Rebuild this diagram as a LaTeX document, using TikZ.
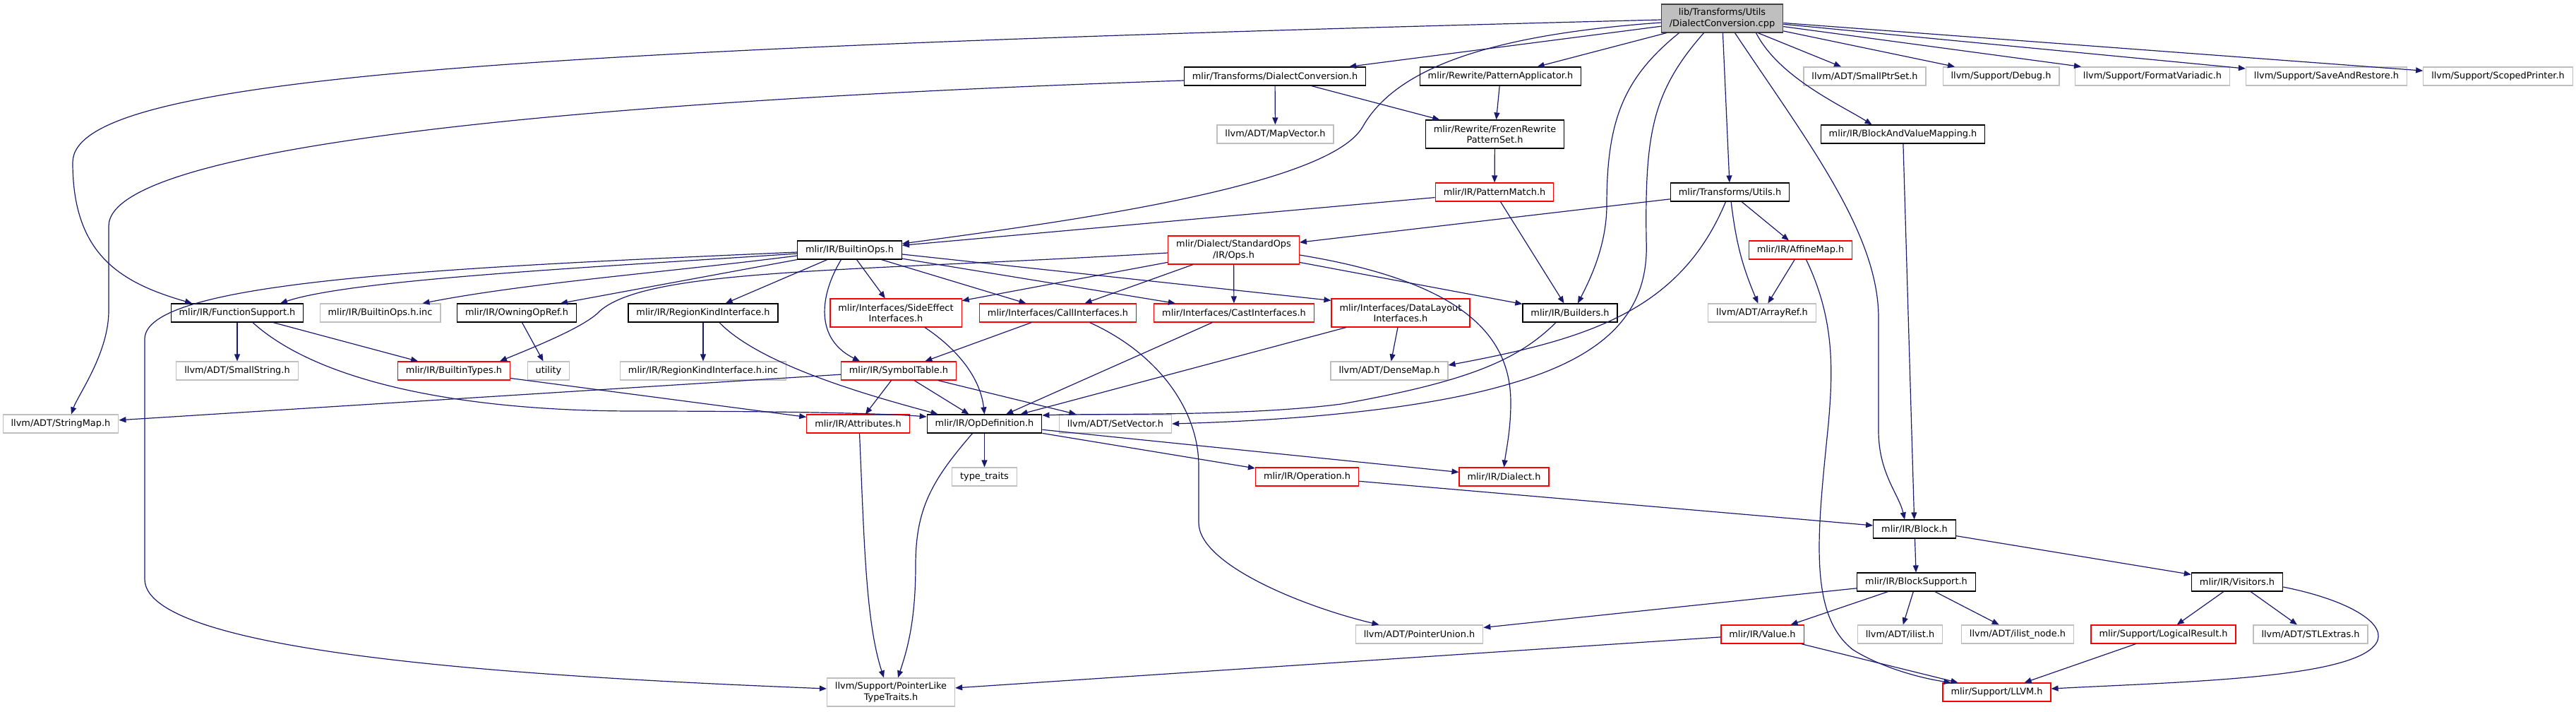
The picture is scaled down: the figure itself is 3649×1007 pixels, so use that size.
\documentclass[tikz,border=0pt]{standalone}
\usepackage{fontspec}
\setmainfont{DejaVu Sans}
\usepackage{tikz}
\usepackage{xcolor}
\usetikzlibrary{arrows.meta, calc}
\definecolor{cEdge}{HTML}{191970}
\definecolor{cRed}{HTML}{FF0000}
\definecolor{cGray}{HTML}{BFBFBF}
\definecolor{cRootLine}{HTML}{404040}
\tikzset{
	hdr/.style     ={rectangle, font=\fontsize{12.9pt}{15.4pt}\selectfont, inner xsep=11.5pt, inner ysep=4pt, minimum height=26pt, align=center, fill=white, line width=1.2pt},
	docbox/.style  ={hdr, draw=black},
	redbox/.style  ={hdr, draw=cRed},
	extbox/.style  ={hdr, draw=cGray},
	rootbox/.style ={hdr, draw=cRootLine, fill=cGray},
	twoline/.style ={minimum height=40pt},
	dep/.style     ={-{Triangle[length=10pt, width=8pt]}, draw=cEdge, line width=1.2pt},
}
\begin{document}
\begin{tikzpicture}[x=1pt, y=-1pt]
	\useasboundingbox (0,0) rectangle (3649,1007);
	% include graph nodes
	\node[rootbox, twoline] (root) at (2439.5,26) {lib/Transforms/Utils\\/DialectConversion.cpp};
	\node[docbox] (dconvh) at (1806,108) {mlir/Transforms/DialectConversion.h};
	\node[docbox] (patapp) at (2125.5,108) {mlir/Rewrite/PatternApplicator.h};
	\node[extbox] (smallptrset) at (2641.5,108) {llvm/ADT/SmallPtrSet.h};
	\node[extbox] (debug) at (2834.5,108) {llvm/Support/Debug.h};
	\node[extbox] (formatv) at (3049,108) {llvm/Support/FormatVariadic.h};
	\node[extbox] (saverestore) at (3295.5,108) {llvm/Support/SaveAndRestore.h};
	\node[extbox] (scopedprinter) at (3538.5,108) {llvm/Support/ScopedPrinter.h};
	\node[extbox] (mapvector) at (1806.5,190) {llvm/ADT/MapVector.h};
	\node[docbox, twoline] (frozen) at (2117.5,190) {mlir/Rewrite/FrozenRewrite\\PatternSet.h};
	\node[docbox] (bvmapping) at (2695.5,190) {mlir/IR/BlockAndValueMapping.h};
	\node[redbox] (patmatch) at (2117,272) {mlir/IR/PatternMatch.h};
	\node[docbox] (tutils) at (2450.5,272) {mlir/Transforms/Utils.h};
	\node[docbox] (builtinops) at (1203.5,354) {mlir/IR/BuiltinOps.h};
	\node[redbox, twoline] (stdops) at (1747.5,354) {mlir/Dialect/StandardOps\\/IR/Ops.h};
	\node[redbox] (affinemap) at (2550.5,354) {mlir/IR/AffineMap.h};
	\node[docbox] (funcsupport) at (336,443) {mlir/IR/FunctionSupport.h};
	\node[extbox] (builtinopsinc) at (538.5,443) {mlir/IR/BuiltinOps.h.inc};
	\node[docbox] (owningopref) at (732,443) {mlir/IR/OwningOpRef.h};
	\node[docbox] (regionkind) at (996,443) {mlir/IR/RegionKindInterface.h};
	\node[redbox, twoline] (sideeffect) at (1269,443) {mlir/Interfaces/SideEffect\\Interfaces.h};
	\node[redbox] (callif) at (1498.5,443) {mlir/Interfaces/CallInterfaces.h};
	\node[redbox] (castif) at (1748,443) {mlir/Interfaces/CastInterfaces.h};
	\node[redbox, twoline] (datalayout) at (1984,443) {mlir/Interfaces/DataLayout\\Interfaces.h};
	\node[docbox] (builders) at (2224,443) {mlir/IR/Builders.h};
	\node[extbox] (arrayref) at (2496,443) {llvm/ADT/ArrayRef.h};
	\node[extbox] (smallstring) at (336,525) {llvm/ADT/SmallString.h};
	\node[redbox] (builtintypes) at (643,525) {mlir/IR/BuiltinTypes.h};
	\node[extbox] (utility) at (777,525) {utility};
	\node[extbox] (regionkindinc) at (996,525) {mlir/IR/RegionKindInterface.h.inc};
	\node[redbox] (symboltable) at (1273,525) {mlir/IR/SymbolTable.h};
	\node[extbox] (densemap) at (1968,525) {llvm/ADT/DenseMap.h};
	\node[extbox] (stringmap) at (86,600) {llvm/ADT/StringMap.h};
	\node[redbox] (attributes) at (1215.5,600) {mlir/IR/Attributes.h};
	\node[docbox] (opdef) at (1394.5,600) {mlir/IR/OpDefinition.h};
	\node[extbox] (setvector) at (1580,600) {llvm/ADT/SetVector.h};
	\node[extbox] (typetraits) at (1394.5,675) {type\_traits};
	\node[redbox] (operation) at (1851.5,675) {mlir/IR/Operation.h};
	\node[redbox] (dialect) at (2130.5,675) {mlir/IR/Dialect.h};
	\node[docbox] (block) at (2712,749) {mlir/IR/Block.h};
	\node[docbox] (blocksupport) at (2714.5,824) {mlir/IR/BlockSupport.h};
	\node[docbox] (visitors) at (3169,824) {mlir/IR/Visitors.h};
	\node[extbox] (pointerunion) at (2010.5,898) {llvm/ADT/PointerUnion.h};
	\node[redbox] (value) at (2496.5,898) {mlir/IR/Value.h};
	\node[extbox] (ilist) at (2691.5,898) {llvm/ADT/ilist.h};
	\node[extbox] (ilistnode) at (2858,898) {llvm/ADT/ilist\_node.h};
	\node[redbox] (logicalresult) at (3064.5,898) {mlir/Support/LogicalResult.h};
	\node[extbox] (stlextras) at (3273,898) {llvm/ADT/STLExtras.h};
	\node[extbox, twoline] (ptrlike) at (1262,980) {llvm/Support/PointerLike\\TypeTraits.h};
	\node[redbox] (llvmh) at (2828.5,980) {mlir/Support/LLVM.h};
	% includes of the source file
	\draw[dep] (root) -- (dconvh);
	\draw[dep] (root) -- (patapp);
	\draw[dep] (root) -- (smallptrset);
	\draw[dep] (root) -- (debug);
	\draw[dep] (root) -- (formatv);
	\draw[dep] (root) -- (saverestore);
	\draw[dep] (root) -- (scopedprinter);
	\draw[dep] (root) -- (tutils);
	\draw[dep] ([xshift=48]root.south) .. controls (2520,110) and (2610,150) .. ([xshift=-44]bvmapping.north);
	\draw[dep] ([yshift=-2]root.west) .. controls (700,70) and (103,110) .. (103,230) .. controls (103,360) and (170,400) .. ([xshift=-64]funcsupport.north);
	\draw[dep] ([yshift=-6]root.west) .. controls (2100,50) and (1975,100) .. (1930,180) .. controls (1880,265) and (1500,315) .. ([yshift=9]builtinops.east);
	\draw[dep] ([xshift=-61]root.south) .. controls (2300,110) and (2276,170) .. (2276,290) .. controls (2276,350) and (2250,400) .. ([xshift=11]builders.north);
	\draw[dep] ([xshift=-26]root.south) .. controls (2340,130) and (2330,190) .. (2332,340) .. controls (2336,430) and (2290,500) .. (2140,543) .. controls (1990,588) and (1760,597) .. (setvector.east);
	\draw[dep] ([xshift=18]root.south) .. controls (2560,200) and (2661,330) .. (2661,450) -- (2661,610) .. controls (2661,670) and (2690,700) .. ([xshift=-14]block.north);
	% second level
	\draw[dep] (dconvh) -- (mapvector);
	\draw[dep] (dconvh) -- (frozen);
	\draw[dep] ([yshift=-6]dconvh.west) .. controls (900,140) and (154,200) .. (154,320) -- (154,440) .. controls (154,500) and (110,560) .. ([xshift=15]stringmap.north);
	\draw[dep] (patapp) -- (frozen);
	\draw[dep] (frozen) -- (patmatch);
	\draw[dep] (patmatch) -- (builtinops);
	\draw[dep] (patmatch) -- (builders);
	\draw[dep] (bvmapping) -- (block);
	\draw[dep] (tutils) -- (stdops);
	\draw[dep] (tutils) -- (affinemap);
	\draw[dep] (tutils) to[bend right=8] (arrayref);
	\draw[dep] ([xshift=-6]tutils.south) .. controls (2380,440) and (2250,480) .. ([yshift=8]densemap.east);
	\draw[dep] (affinemap) -- (arrayref);
	\draw[dep] ([xshift=8]affinemap.south) .. controls (2598,450) and (2597,520) .. (2590,600) .. controls (2575,750) and (2560,870) .. (2625,920) .. controls (2665,945) and (2720,960) .. ([xshift=-65]llvmh.north);
	% BuiltinOps.h and Ops.h
	\draw[dep] ([yshift=-3]builtinops.west) .. controls (600,380) and (205,400) .. (205,480) -- (205,820) .. controls (205,930) and (800,960) .. ([yshift=5]ptrlike.west);
	\draw[dep] ([yshift=-5]builtinops.west) .. controls (850,378) and (500,395) .. ([xshift=61]funcsupport.north);
	\draw[dep] ([yshift=-8]builtinops.west) .. controls (950,385) and (750,400) .. ([xshift=60]builtinopsinc.north);
	\draw[dep] (builtinops.south west) -- ([xshift=62]owningopref.north);
	\draw[dep] (builtinops) -- (regionkind);
	\draw[dep] ([xshift=-12]builtinops.south) .. controls (1160,420) and (1155,480) .. ([xshift=-55]symboltable.north);
	\draw[dep] (builtinops) -- (sideeffect);
	\draw[dep] (builtinops) -- (callif);
	\draw[dep] (builtinops) -- (castif);
	\draw[dep] ([yshift=-6]builtinops.east) -- ([yshift=-3]datalayout.north west);
	\draw[dep] ([yshift=-4]stdops.west) .. controls (1200,385) and (920,380) .. (850,440) .. controls (830,462) and (760,490) .. ([xshift=65]builtintypes.north);
	\draw[dep] (stdops) -- (sideeffect);
	\draw[dep] (stdops) -- (callif);
	\draw[dep] (stdops) -- (castif);
	\draw[dep] (stdops) -- (builders);
	\draw[dep] ([yshift=-7]stdops.east) .. controls (2080,400) and (2140,480) .. (2140,570) .. controls (2140,610) and (2133,640) .. (dialect.north);
	% interfaces and friends
	\draw[dep] (funcsupport) -- (smallstring);
	\draw[dep] (funcsupport) -- (builtintypes);
	\draw[dep] ([xshift=22]funcsupport.south) .. controls (450,540) and (650,582) .. (900,582) .. controls (1100,582) and (1250,585) .. ([yshift=10]opdef.west);
	\draw[dep] (owningopref) -- (utility);
	\draw[dep] (regionkind) -- (regionkindinc);
	\draw[dep] ([xshift=23]regionkind.south) .. controls (1080,520) and (1250,565) .. ([xshift=-66]opdef.north);
	\draw[dep] ([xshift=41]sideeffect.south) .. controls (1350,490) and (1388,530) .. (opdef.north);
	\draw[dep] (callif) -- (symboltable);
	\draw[dep] ([xshift=45]callif.south) .. controls (1640,500) and (1698,580) .. (1698,660) -- (1698,740) .. controls (1698,800) and (1850,860) .. ([xshift=-57]pointerunion.north);
	\draw[dep] (castif) -- (opdef);
	\draw[dep] (datalayout) -- (opdef);
	\draw[dep] (datalayout) -- (densemap);
	\draw[dep] ([xshift=-20]builders.south) .. controls (2150,510) and (2080,540) .. (1900,572) .. controls (1760,590) and (1560,585) .. ([yshift=12]opdef.east);
	\draw[dep] (symboltable) -- (stringmap);
	\draw[dep] (symboltable) -- (attributes);
	\draw[dep] (symboltable) -- (opdef);
	\draw[dep] (symboltable) -- (setvector);
	\draw[dep] (builtintypes) -- (attributes);
	\draw[dep] ([xshift=2]attributes.south) .. controls (1224,760) and (1226,880) .. ([xshift=-10]ptrlike.north);
	% OpDefinition.h and below
	\draw[dep] ([xshift=-17]opdef.south) .. controls (1320,680) and (1297,720) .. (1297,800) .. controls (1297,880) and (1285,920) .. ([xshift=10]ptrlike.north);
	\draw[dep] (opdef) -- (typetraits);
	\draw[dep] (opdef) -- (operation);
	\draw[dep] (opdef) -- (dialect);
	\draw[dep] (operation) -- (block);
	\draw[dep] (block) -- (blocksupport);
	\draw[dep] (block) -- (visitors);
	\draw[dep] (blocksupport) -- (pointerunion);
	\draw[dep] (blocksupport) -- (value);
	\draw[dep] (blocksupport) -- (ilist);
	\draw[dep] (blocksupport) -- (ilistnode);
	\draw[dep] (visitors) -- (logicalresult);
	\draw[dep] (visitors) -- (stlextras);
	\draw[dep] ([yshift=-7]visitors.east) .. controls (3330,850) and (3385,885) .. (3365,912) .. controls (3330,960) and (3100,965) .. ([yshift=5]llvmh.east);
	\draw[dep] (logicalresult) -- (llvmh);
	\draw[dep] (value) -- (llvmh);
	\draw[dep] (value) -- (ptrlike);
\end{tikzpicture}
\end{document}
